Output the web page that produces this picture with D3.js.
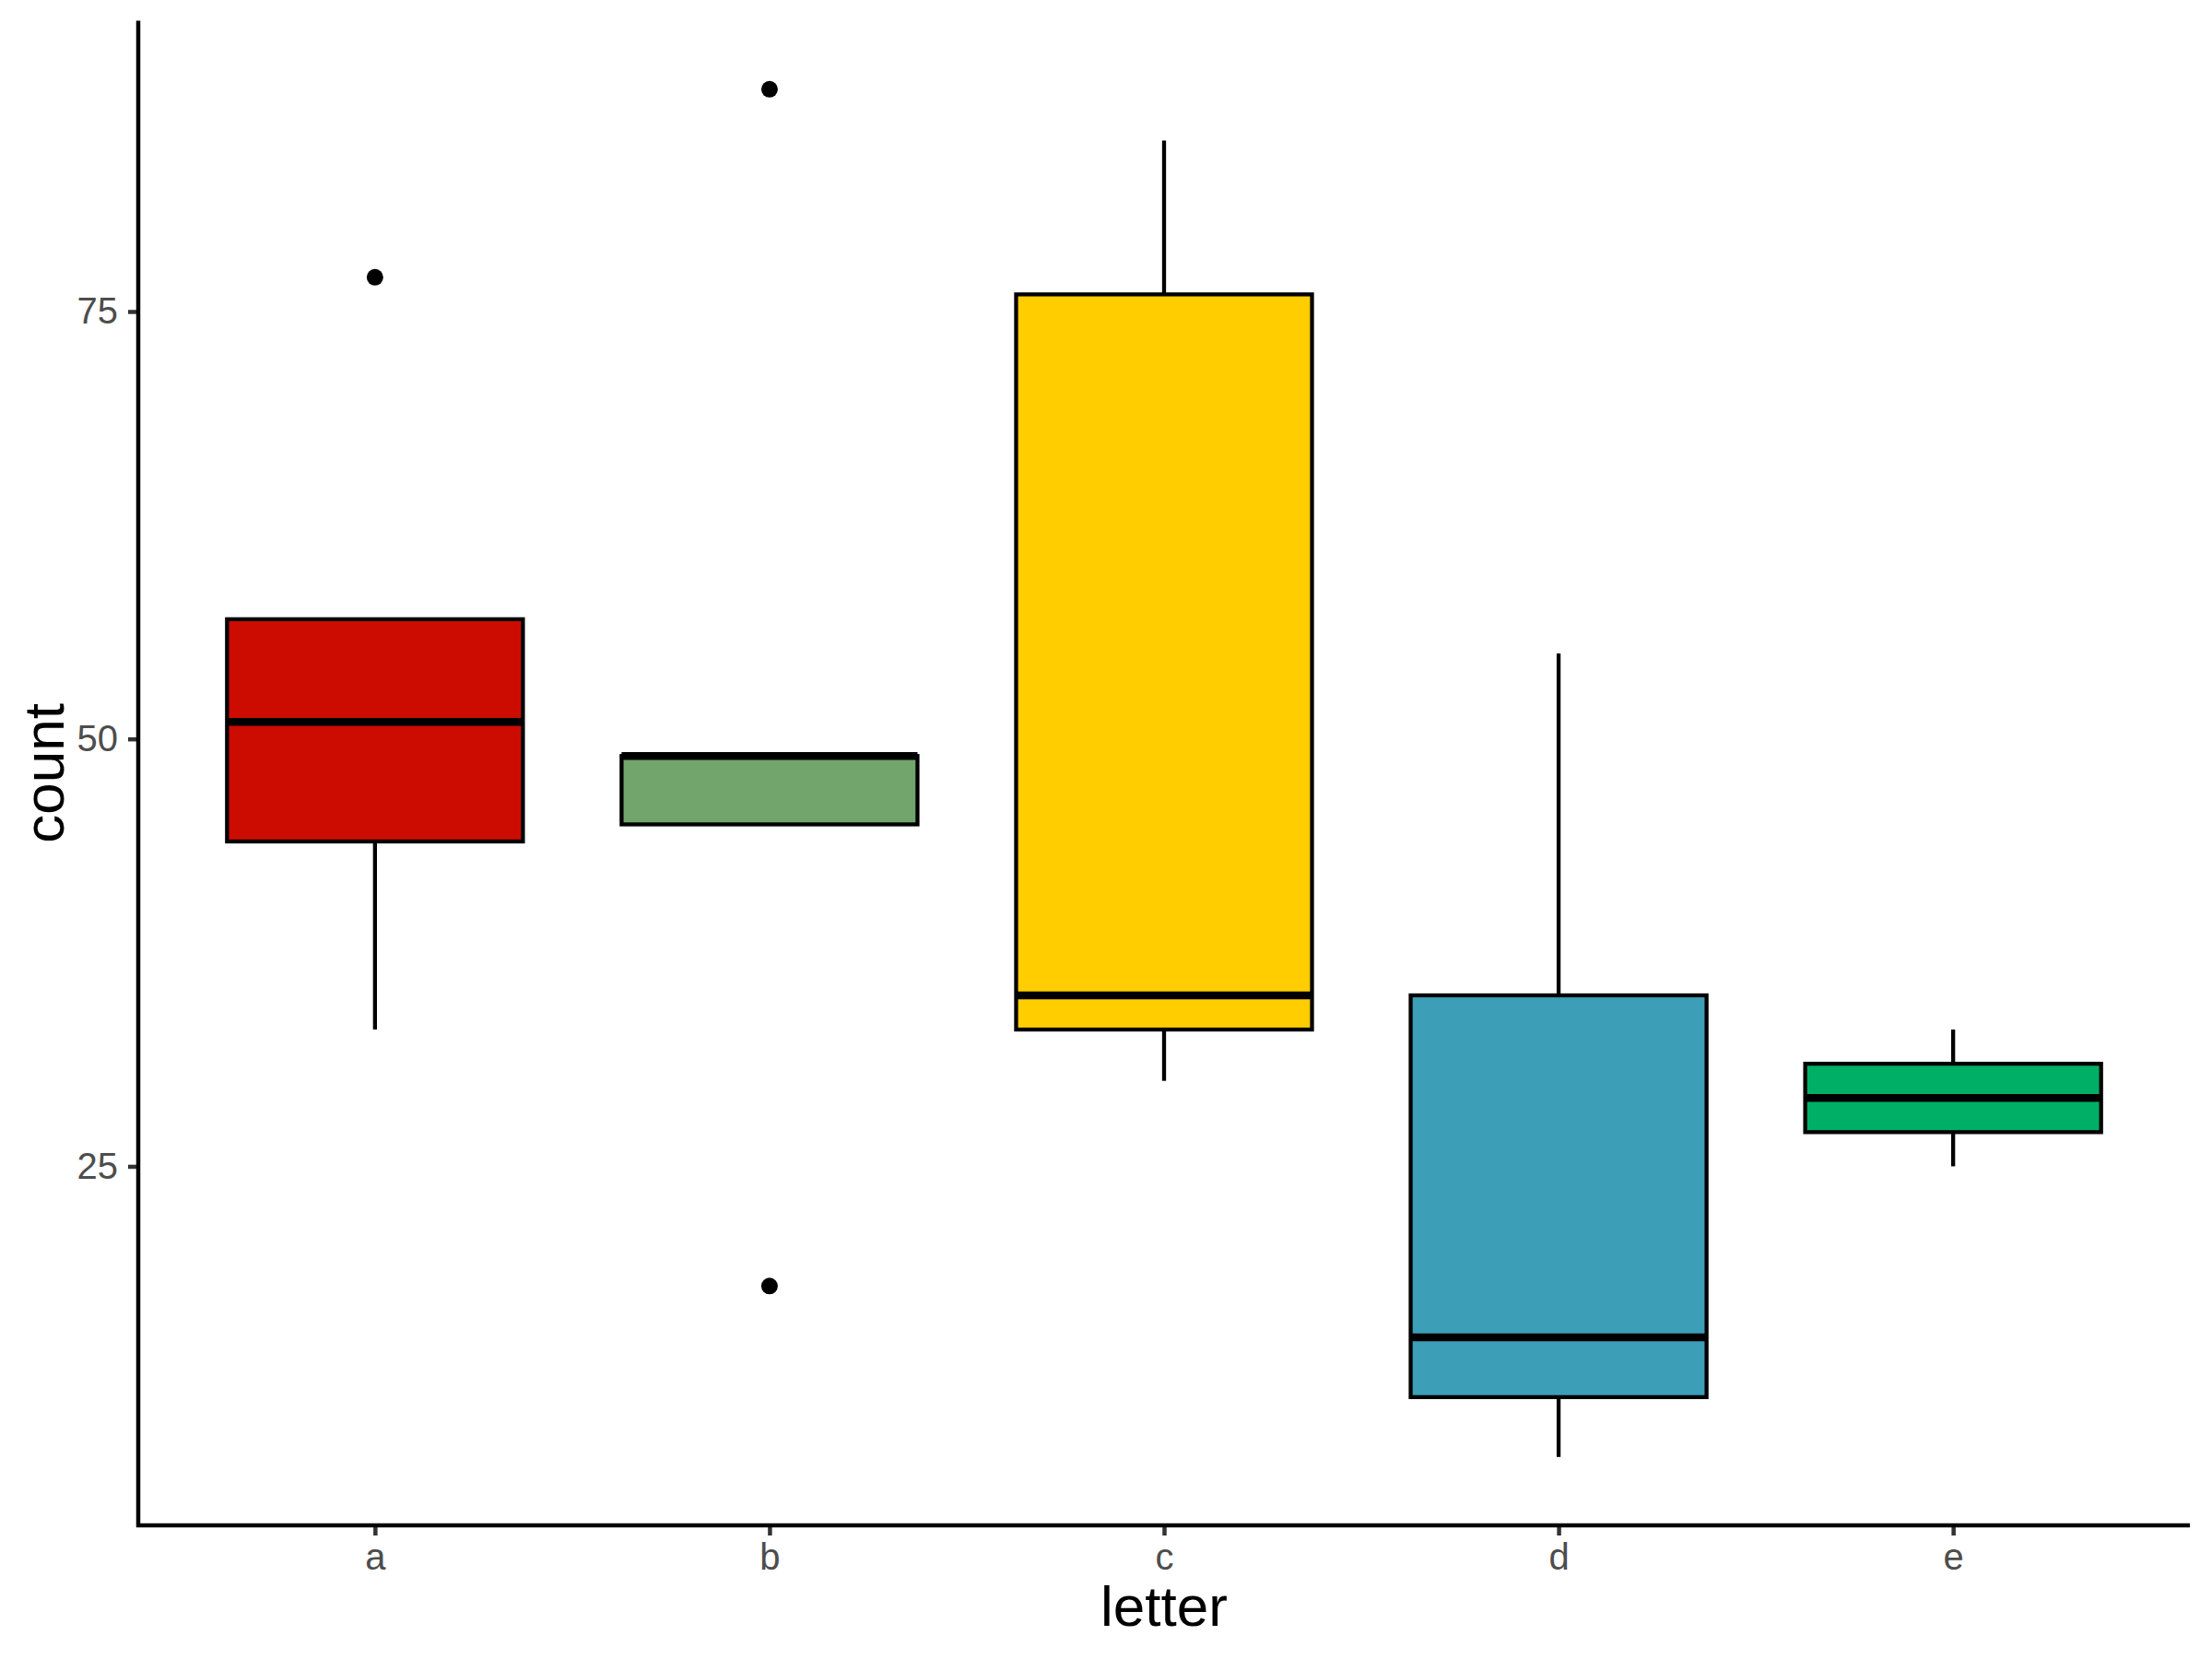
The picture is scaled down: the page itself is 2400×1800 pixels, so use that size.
<!DOCTYPE html>
<html><head><meta charset="utf-8">
<script src="https://cdn.jsdelivr.net/npm/d3@7"></script>
<style>body{margin:0;background:#fff}svg{display:block}</style>
</head><body>
<script>
const categories = ["a","b","c","d","e"];
const lowerWhisker = [33, 45, 30, 8, 25];
const q1 = [44, 45, 33, 11.5, 27];
const median = [51, 49, 35, 15, 29];
const q3 = [57, 49, 76, 35, 31];
const upperWhisker = [57, 49, 85, 55, 33];
const outliers = [[77], [88, 18], [], [], []];
const fills = ["#CC0C00", "#71A56B", "#FFCD00", "#3D9EB8", "#00AF66"];
const yTicks = [25, 50, 75];

(function () {
const W = 2400, H = 1800;
const svg = d3.select("body").append("svg").attr("width", W).attr("height", H);
const pLeft = 150, pRight = 2376, pTop = 22.6, pBottom = 1655;

const x = d3.scalePoint().domain(categories).range([pLeft, pRight]).padding(0.6);
const y = d3.scaleLinear().domain([4, 92]).range([pBottom, pTop]);
const step = x.step();
const bw = step * 0.75;

const data = categories.map((c, i) => ({c, lo: lowerWhisker[i], q1: q1[i], med: median[i], q3: q3[i], hi: upperWhisker[i], out: outliers[i], fill: fills[i]}));

const g = svg.append("g");
const box = g.selectAll("g.box").data(data).join("g").attr("class", "box");
box.append("line").attr("x1", d => x(d.c)).attr("x2", d => x(d.c))
  .attr("y1", d => y(d.q3)).attr("y2", d => y(d.hi)).attr("stroke", "#000").attr("stroke-width", 4.3);
box.append("line").attr("x1", d => x(d.c)).attr("x2", d => x(d.c))
  .attr("y1", d => y(d.q1)).attr("y2", d => y(d.lo)).attr("stroke", "#000").attr("stroke-width", 4.3);
box.append("rect").attr("x", d => x(d.c) - bw / 2).attr("width", bw)
  .attr("y", d => y(d.q3)).attr("height", d => y(d.q1) - y(d.q3))
  .attr("fill", d => d.fill).attr("stroke", "#000").attr("stroke-width", 4.3);
box.append("line").attr("x1", d => x(d.c) - bw / 2).attr("x2", d => x(d.c) + bw / 2)
  .attr("y1", d => y(d.med)).attr("y2", d => y(d.med)).attr("stroke", "#000").attr("stroke-width", 8.5);
box.selectAll("circle").data(d => d.out.map(v => ({c: d.c, v}))).join("circle")
  .attr("cx", d => x(d.c)).attr("cy", d => y(d.v)).attr("r", 9).attr("fill", "#000");

const yAxis = svg.append("g").attr("transform", `translate(${pLeft},0)`)
  .call(d3.axisLeft(y).tickValues(yTicks).tickSize(11).tickPadding(11));
const xAxis = svg.append("g").attr("transform", `translate(0,${pBottom})`)
  .call(d3.axisBottom(x).tickSize(11).tickPadding(9));
[yAxis, xAxis].forEach(a => {
  a.select(".domain").remove();
  a.selectAll(".tick line").attr("stroke", "#333333").attr("stroke-width", 4.5);
  a.selectAll(".tick text").attr("fill", "#4D4D4D").style("font-family", "'Liberation Sans', Arial, sans-serif").style("font-size", "40px");
});
svg.append("line").attr("x1", pLeft).attr("x2", pLeft).attr("y1", pTop).attr("y2", pBottom + 2)
  .attr("stroke", "#000").attr("stroke-width", 4.5);
svg.append("line").attr("x1", pLeft - 2).attr("x2", pRight).attr("y1", pBottom).attr("y2", pBottom)
  .attr("stroke", "#000").attr("stroke-width", 4.5);

svg.append("text").attr("x", (pLeft + pRight) / 2).attr("y", 1764).attr("text-anchor", "middle")
  .style("font-family", "'Liberation Sans', Arial, sans-serif").style("font-size", "62px").attr("fill", "#000").text("letter");
svg.append("text").attr("transform", `translate(69,${(pTop + pBottom) / 2}) rotate(-90)`).attr("text-anchor", "middle")
  .style("font-family", "'Liberation Sans', Arial, sans-serif").style("font-size", "62px").attr("fill", "#000").text("count");
})();
</script>
</body></html>
